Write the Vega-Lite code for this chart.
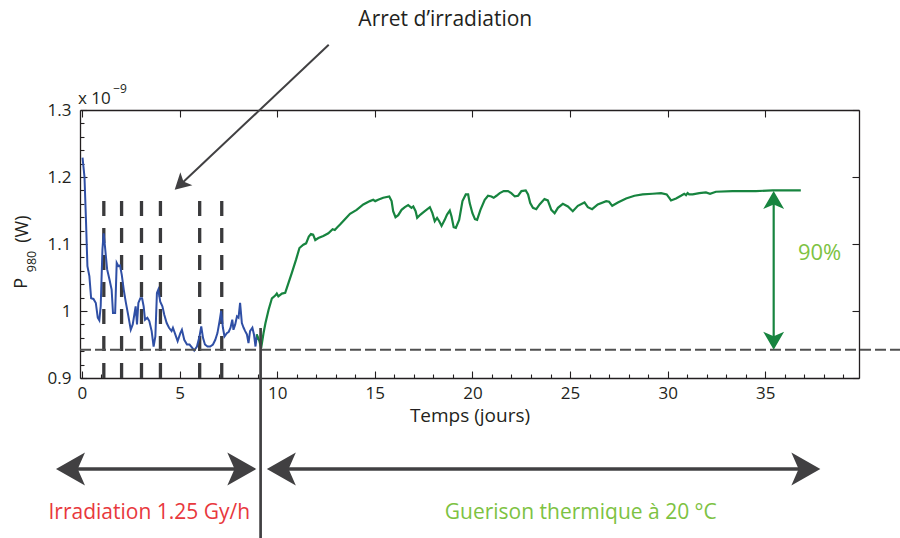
{
  "$schema": "https://vega.github.io/schema/vega-lite/v6.json",
  "width": 779,
  "height": 268,
  "autosize": {"type": "none"},
  "padding": {"left": 80, "top": 110, "right": 41, "bottom": 160},
  "background": "white",
  "config": {
    "view": {"stroke": null},
    "font": "Open Sans",
    "text": {"font": "Open Sans"},
    "axis": {
      "grid": false,
      "domainColor": "#231f20",
      "tickColor": "#231f20",
      "labelColor": "#231f20",
      "titleColor": "#231f20",
      "labelFont": "Open Sans",
      "titleFont": "Open Sans",
      "titleFontWeight": "normal",
      "domainWidth": 1.3,
      "tickWidth": 1.1
    }
  },
  "datasets": {
    "blue": [
      {"t": 0.03, "p": 1.229}, {"t": 0.13, "p": 1.2}, {"t": 0.2, "p": 1.141}, {"t": 0.28, "p": 1.067},
      {"t": 0.38, "p": 1.052}, {"t": 0.47, "p": 1.019}, {"t": 0.59, "p": 1.018}, {"t": 0.71, "p": 1.012},
      {"t": 0.81, "p": 0.99}, {"t": 0.89, "p": 0.986}, {"t": 0.96, "p": 1.007}, {"t": 1.05, "p": 1.092},
      {"t": 1.11, "p": 1.116}, {"t": 1.18, "p": 1.096}, {"t": 1.29, "p": 1.062}, {"t": 1.41, "p": 1.047},
      {"t": 1.52, "p": 1.032}, {"t": 1.59, "p": 0.997}, {"t": 1.7, "p": 0.997}, {"t": 1.78, "p": 1.072},
      {"t": 1.87, "p": 1.067}, {"t": 1.95, "p": 1.068}, {"t": 2.04, "p": 1.054}, {"t": 2.14, "p": 1.032},
      {"t": 2.24, "p": 1.014}, {"t": 2.38, "p": 0.992}, {"t": 2.5, "p": 0.972}, {"t": 2.6, "p": 0.98},
      {"t": 2.68, "p": 0.994}, {"t": 2.75, "p": 1.007}, {"t": 2.82, "p": 0.98}, {"t": 2.89, "p": 1.012},
      {"t": 2.99, "p": 1.019}, {"t": 3.08, "p": 1.019}, {"t": 3.16, "p": 1.007}, {"t": 3.23, "p": 0.987},
      {"t": 3.35, "p": 0.99}, {"t": 3.45, "p": 0.985}, {"t": 3.57, "p": 0.97}, {"t": 3.67, "p": 0.947},
      {"t": 3.76, "p": 0.962}, {"t": 3.84, "p": 1.027}, {"t": 3.91, "p": 1.032}, {"t": 4.01, "p": 1.014},
      {"t": 4.12, "p": 1.007}, {"t": 4.22, "p": 0.994}, {"t": 4.34, "p": 0.982}, {"t": 4.46, "p": 0.975},
      {"t": 4.59, "p": 0.97}, {"t": 4.66, "p": 0.975}, {"t": 4.78, "p": 0.965}, {"t": 4.9, "p": 0.955},
      {"t": 5.04, "p": 0.967}, {"t": 5.12, "p": 0.972}, {"t": 5.24, "p": 0.957}, {"t": 5.38, "p": 0.95},
      {"t": 5.51, "p": 0.95}, {"t": 5.65, "p": 0.945}, {"t": 5.75, "p": 0.941}, {"t": 5.89, "p": 0.947},
      {"t": 6.02, "p": 0.962}, {"t": 6.11, "p": 0.977}, {"t": 6.2, "p": 0.96}, {"t": 6.3, "p": 0.95},
      {"t": 6.43, "p": 0.947}, {"t": 6.57, "p": 0.947}, {"t": 6.71, "p": 0.95}, {"t": 6.83, "p": 0.957},
      {"t": 6.94, "p": 0.967}, {"t": 7.05, "p": 0.985}, {"t": 7.13, "p": 1.0}, {"t": 7.22, "p": 0.975},
      {"t": 7.3, "p": 0.962}, {"t": 7.42, "p": 0.967}, {"t": 7.52, "p": 0.969}, {"t": 7.61, "p": 0.975},
      {"t": 7.7, "p": 0.987}, {"t": 7.76, "p": 0.972}, {"t": 7.85, "p": 0.98}, {"t": 7.94, "p": 0.992},
      {"t": 8.02, "p": 0.99}, {"t": 8.1, "p": 1.012}, {"t": 8.19, "p": 0.982}, {"t": 8.28, "p": 0.975},
      {"t": 8.36, "p": 0.97}, {"t": 8.45, "p": 0.965}, {"t": 8.53, "p": 0.952}, {"t": 8.61, "p": 0.97},
      {"t": 8.73, "p": 0.975}, {"t": 8.81, "p": 0.965}, {"t": 8.89, "p": 0.947}, {"t": 8.96, "p": 0.965},
      {"t": 9.01, "p": 0.957}
    ],
    "green": [
      {"t": 8.95, "p": 0.965}, {"t": 9.09, "p": 0.955}, {"t": 9.18, "p": 0.945}, {"t": 9.3, "p": 0.967},
      {"t": 9.4, "p": 0.982}, {"t": 9.56, "p": 1.002}, {"t": 9.73, "p": 1.019}, {"t": 9.9, "p": 1.023},
      {"t": 9.98, "p": 1.026}, {"t": 10.06, "p": 1.022}, {"t": 10.24, "p": 1.026}, {"t": 10.41, "p": 1.027},
      {"t": 10.58, "p": 1.042}, {"t": 10.75, "p": 1.057}, {"t": 10.97, "p": 1.077}, {"t": 11.14, "p": 1.094},
      {"t": 11.34, "p": 1.099}, {"t": 11.48, "p": 1.101}, {"t": 11.62, "p": 1.111}, {"t": 11.73, "p": 1.115},
      {"t": 11.84, "p": 1.114}, {"t": 11.95, "p": 1.106}, {"t": 12.11, "p": 1.109}, {"t": 12.36, "p": 1.112},
      {"t": 12.62, "p": 1.116}, {"t": 12.84, "p": 1.122}, {"t": 12.95, "p": 1.121}, {"t": 13.08, "p": 1.125},
      {"t": 13.22, "p": 1.129}, {"t": 13.47, "p": 1.137}, {"t": 13.73, "p": 1.145}, {"t": 14.07, "p": 1.151},
      {"t": 14.41, "p": 1.159}, {"t": 14.75, "p": 1.164}, {"t": 14.92, "p": 1.166}, {"t": 15.02, "p": 1.164},
      {"t": 15.17, "p": 1.166}, {"t": 15.43, "p": 1.169}, {"t": 15.74, "p": 1.171}, {"t": 15.86, "p": 1.164},
      {"t": 15.94, "p": 1.149}, {"t": 16.06, "p": 1.14}, {"t": 16.2, "p": 1.143}, {"t": 16.37, "p": 1.151},
      {"t": 16.54, "p": 1.155}, {"t": 16.71, "p": 1.158}, {"t": 16.88, "p": 1.154}, {"t": 16.97, "p": 1.156},
      {"t": 17.09, "p": 1.149}, {"t": 17.17, "p": 1.139}, {"t": 17.34, "p": 1.144}, {"t": 17.56, "p": 1.149},
      {"t": 17.82, "p": 1.155}, {"t": 17.95, "p": 1.146}, {"t": 18.07, "p": 1.134}, {"t": 18.19, "p": 1.139},
      {"t": 18.3, "p": 1.134}, {"t": 18.42, "p": 1.127}, {"t": 18.58, "p": 1.136}, {"t": 18.7, "p": 1.144},
      {"t": 18.84, "p": 1.15}, {"t": 18.93, "p": 1.141}, {"t": 19.04, "p": 1.125}, {"t": 19.15, "p": 1.124},
      {"t": 19.32, "p": 1.136}, {"t": 19.49, "p": 1.164}, {"t": 19.66, "p": 1.174}, {"t": 19.78, "p": 1.174},
      {"t": 19.86, "p": 1.161}, {"t": 20.0, "p": 1.146}, {"t": 20.13, "p": 1.137}, {"t": 20.24, "p": 1.136},
      {"t": 20.41, "p": 1.151}, {"t": 20.63, "p": 1.166}, {"t": 20.8, "p": 1.172}, {"t": 20.97, "p": 1.171},
      {"t": 21.09, "p": 1.169}, {"t": 21.23, "p": 1.172}, {"t": 21.4, "p": 1.176}, {"t": 21.6, "p": 1.179},
      {"t": 21.82, "p": 1.179}, {"t": 21.99, "p": 1.176}, {"t": 22.17, "p": 1.171}, {"t": 22.34, "p": 1.172},
      {"t": 22.51, "p": 1.179}, {"t": 22.73, "p": 1.18}, {"t": 22.85, "p": 1.174}, {"t": 22.96, "p": 1.161},
      {"t": 23.1, "p": 1.154}, {"t": 23.27, "p": 1.152}, {"t": 23.44, "p": 1.159}, {"t": 23.69, "p": 1.167},
      {"t": 23.86, "p": 1.165}, {"t": 24.04, "p": 1.151}, {"t": 24.21, "p": 1.146}, {"t": 24.38, "p": 1.154},
      {"t": 24.63, "p": 1.16}, {"t": 24.89, "p": 1.156}, {"t": 25.14, "p": 1.149}, {"t": 25.4, "p": 1.157},
      {"t": 25.74, "p": 1.162}, {"t": 25.91, "p": 1.155}, {"t": 26.13, "p": 1.152}, {"t": 26.42, "p": 1.159},
      {"t": 26.85, "p": 1.164}, {"t": 27.0, "p": 1.163}, {"t": 27.16, "p": 1.157}, {"t": 27.45, "p": 1.162},
      {"t": 27.87, "p": 1.168}, {"t": 28.3, "p": 1.172}, {"t": 28.72, "p": 1.174}, {"t": 29.23, "p": 1.175},
      {"t": 29.66, "p": 1.176}, {"t": 29.95, "p": 1.174}, {"t": 30.1, "p": 1.168}, {"t": 30.17, "p": 1.165},
      {"t": 30.43, "p": 1.168}, {"t": 30.68, "p": 1.172}, {"t": 30.85, "p": 1.175}, {"t": 30.94, "p": 1.173},
      {"t": 31.02, "p": 1.176}, {"t": 31.1, "p": 1.174}, {"t": 31.28, "p": 1.174}, {"t": 31.62, "p": 1.176},
      {"t": 31.96, "p": 1.177}, {"t": 32.17, "p": 1.175}, {"t": 32.47, "p": 1.178}, {"t": 33.32, "p": 1.179},
      {"t": 34.52, "p": 1.179}, {"t": 35.37, "p": 1.18}, {"t": 36.82, "p": 1.18}
    ],
    "stops": [{"t": 1.12}, {"t": 2.03}, {"t": 3.05}, {"t": 4.02}, {"t": 6.03}, {"t": 7.16}],
    "baseline": [{"t0": -0.1, "t1": 41.9, "p": 0.942}],
    "heads": [
      {"t": -1.33, "p": 0.7642, "dir": "left"},
      {"t": 9.47, "p": 0.7642, "dir": "left"},
      {"t": 8.93, "p": 0.7642, "dir": "right"},
      {"t": 37.82, "p": 0.7642, "dir": "right"},
      {"t": 35.43, "p": 1.179, "dir": "up"},
      {"t": 35.43, "p": 0.942, "dir": "down"},
      {"t": 4.75, "p": 1.1811, "dir": "diag"}
    ],
    "ytitle": [
      {"t": -2.8, "p": 1.0333, "label": "P", "part": "main"},
      {"t": -2.33, "p": 1.0579, "label": "980", "part": "sub"},
      {"t": -2.74, "p": 1.1019, "label": "(W)", "part": "main"}
    ]
  },
  "resolve": {"scale": {"x": "shared", "y": "shared"}, "axis": {"x": "independent", "y": "independent"}},
  "layer": [
    {
      "layer": [
        {
          "data": {"name": "stops"},
          "mark": {"type": "rule", "stroke": "#3a3a3c", "strokeWidth": 3.3, "strokeDash": [15, 12]},
          "encoding": {
            "x": {"field": "t", "type": "quantitative"},
            "y": {"datum": 0.9},
            "y2": {"datum": 1.171}
          }
        },
        {
          "data": {"name": "blue"},
          "mark": {"type": "line", "stroke": "#2f4fa5", "strokeWidth": 2},
          "encoding": {
            "x": {
              "field": "t", "type": "quantitative",
              "scale": {"domain": [-0.1, 39.8], "nice": false, "zero": false},
              "axis": {
                "orient": "bottom", "title": "Temps (jours)", "values": [0, 5, 10, 15, 20, 25, 30, 35],
                "format": "d", "tickSize": -7, "labelPadding": 14, "labelFontSize": 17,
                "titleFontSize": 19, "titlePadding": 5, "labelFlush": false, "labelOverlap": false
              }
            },
            "y": {
              "field": "p", "type": "quantitative",
              "scale": {"domain": [0.9, 1.3], "nice": false, "zero": false},
              "axis": {
                "orient": "left", "title": null, "values": [0.9, 1, 1.1, 1.2, 1.3],
                "format": "~g", "tickSize": -7, "labelPadding": 16, "labelFontSize": 17,
                "labelFlush": false, "labelOverlap": false
              }
            }
          }
        },
        {
          "data": {"name": "green"},
          "mark": {"type": "line", "stroke": "#17843f", "strokeWidth": 2.2},
          "encoding": {
            "x": {"field": "t", "type": "quantitative"},
            "y": {"field": "p", "type": "quantitative"}
          }
        },
        {
          "data": {"name": "baseline"},
          "mark": {"type": "rule", "stroke": "#505050", "strokeWidth": 2, "strokeDash": [11, 4]},
          "encoding": {
            "x": {"field": "t0", "type": "quantitative"},
            "x2": {"field": "t1"},
            "y": {"field": "p", "type": "quantitative"}
          }
        },
        {
          "data": {"values": [{"t": 35.43, "p0": 0.96, "p1": 1.161}]},
          "mark": {"type": "rule", "stroke": "#17843f", "strokeWidth": 2.2},
          "encoding": {
            "x": {"field": "t", "type": "quantitative"},
            "y": {"field": "p0", "type": "quantitative"},
            "y2": {"field": "p1"}
          }
        },
        {
          "data": {"values": [{"t": 9.15, "p0": 0.9746, "p1": 0.64}]},
          "mark": {"type": "rule", "stroke": "#414042", "strokeWidth": 2.7},
          "encoding": {
            "x": {"field": "t", "type": "quantitative"},
            "y": {"field": "p0", "type": "quantitative"},
            "y2": {"field": "p1"}
          }
        },
        {
          "data": {"values": [{"t0": -0.31, "t1": 7.91, "p": 0.7642}, {"t0": 10.49, "t1": 36.8, "p": 0.7642}]},
          "mark": {"type": "rule", "stroke": "#414042", "strokeWidth": 3.3},
          "encoding": {
            "x": {"field": "t0", "type": "quantitative"},
            "x2": {"field": "t1"},
            "y": {"field": "p", "type": "quantitative"}
          }
        },
        {
          "data": {"values": [{"t0": 12.64, "p0": 1.3973, "t1": 5.12, "p1": 1.1906}]},
          "mark": {"type": "rule", "stroke": "#414042", "strokeWidth": 2},
          "encoding": {
            "x": {"field": "t0", "type": "quantitative"},
            "x2": {"field": "t1"},
            "y": {"field": "p0", "type": "quantitative"},
            "y2": {"field": "p1"}
          }
        },
        {
          "data": {"name": "heads"},
          "transform": [{"filter": "datum.dir === 'left'"}],
          "mark": {"type": "point", "shape": "M0,0 L-0.57,1 L0,0.75 L0.57,1 Z", "size": 3364, "filled": true, "fill": "#414042", "opacity": 1, "strokeWidth": 0, "angle": 270},
          "encoding": {"x": {"field": "t", "type": "quantitative"}, "y": {"field": "p", "type": "quantitative"}}
        },
        {
          "data": {"name": "heads"},
          "transform": [{"filter": "datum.dir === 'right'"}],
          "mark": {"type": "point", "shape": "M0,0 L-0.57,1 L0,0.75 L0.57,1 Z", "size": 3364, "filled": true, "fill": "#414042", "opacity": 1, "strokeWidth": 0, "angle": 90},
          "encoding": {"x": {"field": "t", "type": "quantitative"}, "y": {"field": "p", "type": "quantitative"}}
        },
        {
          "data": {"name": "heads"},
          "transform": [{"filter": "datum.dir === 'up'"}],
          "mark": {"type": "point", "shape": "M0,0 L-0.58,1 L0,0.75 L0.58,1 Z", "size": 1296, "filled": true, "fill": "#17843f", "opacity": 1, "strokeWidth": 0, "angle": 0},
          "encoding": {"x": {"field": "t", "type": "quantitative"}, "y": {"field": "p", "type": "quantitative"}}
        },
        {
          "data": {"name": "heads"},
          "transform": [{"filter": "datum.dir === 'down'"}],
          "mark": {"type": "point", "shape": "M0,0 L-0.58,1 L0,0.75 L0.58,1 Z", "size": 1296, "filled": true, "fill": "#17843f", "opacity": 1, "strokeWidth": 0, "angle": 180},
          "encoding": {"x": {"field": "t", "type": "quantitative"}, "y": {"field": "p", "type": "quantitative"}}
        },
        {
          "data": {"name": "heads"},
          "transform": [{"filter": "datum.dir === 'diag'"}],
          "mark": {"type": "point", "shape": "M0,0 L-0.55,1 L0,0.75 L0.55,1 Z", "size": 1024, "filled": true, "fill": "#414042", "opacity": 1, "strokeWidth": 0, "angle": 226.8},
          "encoding": {"x": {"field": "t", "type": "quantitative"}, "y": {"field": "p", "type": "quantitative"}}
        },
        {
          "data": {"name": "ytitle"},
          "transform": [{"filter": "datum.part === 'main'"}],
          "mark": {"type": "text", "align": "left", "baseline": "alphabetic", "angle": 270, "fontSize": 18, "fill": "#231f20"},
          "encoding": {"x": {"field": "t", "type": "quantitative"}, "y": {"field": "p", "type": "quantitative"}, "text": {"field": "label"}}
        },
        {
          "data": {"name": "ytitle"},
          "transform": [{"filter": "datum.part === 'sub'"}],
          "mark": {"type": "text", "align": "left", "baseline": "alphabetic", "angle": 270, "fontSize": 12.5, "fill": "#231f20"},
          "encoding": {"x": {"field": "t", "type": "quantitative"}, "y": {"field": "p", "type": "quantitative"}, "text": {"field": "label"}}
        },
        {
          "data": {"values": [{"t": 18.61, "p": 1.4248, "label": "Arret d’irradiation"}]},
          "mark": {"type": "text", "align": "center", "baseline": "alphabetic", "fontSize": 21, "fill": "#231f20"},
          "encoding": {"x": {"field": "t", "type": "quantitative"}, "y": {"field": "p", "type": "quantitative"}, "text": {"field": "label"}}
        },
        {
          "data": {"values": [{"t": 3.45, "p": 0.689, "label": "Irradiation 1.25 Gy/h"}]},
          "mark": {"type": "text", "align": "center", "baseline": "alphabetic", "fontSize": 21, "fill": "#e8383d"},
          "encoding": {"x": {"field": "t", "type": "quantitative"}, "y": {"field": "p", "type": "quantitative"}, "text": {"field": "label"}}
        },
        {
          "data": {"values": [{"t": 25.55, "p": 0.689, "label": "Guerison thermique à 20 °C"}]},
          "mark": {"type": "text", "align": "center", "baseline": "alphabetic", "fontSize": 21, "fill": "#7dc242"},
          "encoding": {"x": {"field": "t", "type": "quantitative"}, "y": {"field": "p", "type": "quantitative"}, "text": {"field": "label"}}
        },
        {
          "data": {"values": [{"t": 37.78, "p": 1.0755, "label": "90%"}]},
          "mark": {"type": "text", "align": "center", "baseline": "alphabetic", "fontSize": 22, "fill": "#7dc242"},
          "encoding": {"x": {"field": "t", "type": "quantitative"}, "y": {"field": "p", "type": "quantitative"}, "text": {"field": "label"}}
        },
        {
          "data": {"values": [{"t": -0.2, "p": 1.3094, "label": "x 10"}]},
          "mark": {"type": "text", "align": "left", "baseline": "alphabetic", "fontSize": 17, "fill": "#231f20"},
          "encoding": {"x": {"field": "t", "type": "quantitative"}, "y": {"field": "p", "type": "quantitative"}, "text": {"field": "label"}}
        },
        {
          "data": {"values": [{"t": 1.6, "p": 1.3258, "label": "−9"}]},
          "mark": {"type": "text", "align": "left", "baseline": "alphabetic", "fontSize": 12, "fill": "#231f20"},
          "encoding": {"x": {"field": "t", "type": "quantitative"}, "y": {"field": "p", "type": "quantitative"}, "text": {"field": "label"}}
        }
      ]
    },
    {
      "data": {"name": "baseline"},
      "mark": {"type": "point", "opacity": 0},
      "encoding": {
        "x": {"field": "t0", "type": "quantitative", "axis": {"orient": "top", "title": null, "labels": false, "values": [0, 5, 10, 15, 20, 25, 30, 35], "tickSize": -7}},
        "y": {"field": "p", "type": "quantitative", "axis": {"orient": "right", "title": null, "labels": false, "values": [0.9, 1, 1.1, 1.2, 1.3], "tickSize": -7}}
      }
    },
    {
      "data": {"name": "baseline"},
      "mark": {"type": "point", "opacity": 0},
      "encoding": {
        "x": {"field": "t1", "type": "quantitative", "axis": {"orient": "bottom", "title": null, "labels": false, "domain": false, "values": [1, 2, 3, 4, 6, 7, 8, 9, 11, 12, 13, 14, 16, 17, 18, 19, 21, 22, 23, 24, 26, 27, 28, 29, 31, 32, 33, 34, 36, 37, 38, 39], "tickSize": -4}},
        "y": {"field": "p", "type": "quantitative", "axis": {"orient": "left", "title": null, "labels": false, "domain": false, "values": [0.92, 0.94, 0.96, 0.98, 1.02, 1.04, 1.06, 1.08, 1.12, 1.14, 1.16, 1.18, 1.22, 1.24, 1.26, 1.28], "tickSize": -4}}
      }
    }
  ]
}
